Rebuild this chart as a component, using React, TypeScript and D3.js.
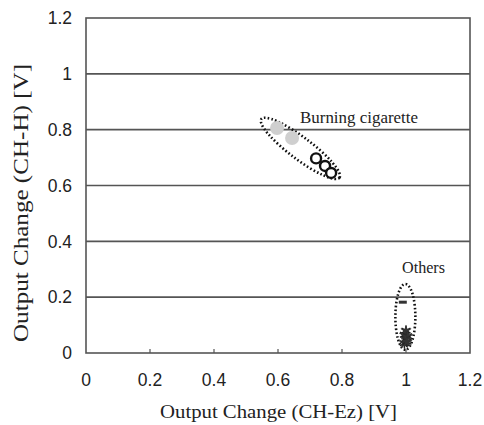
import React from "react";
import * as d3 from "d3";

const xTicks = [0, 0.2, 0.4, 0.6, 0.8, 1, 1.2];
const yTicks = [0, 0.2, 0.4, 0.6, 0.8, 1, 1.2];
const cigaretteOpen = [
  { x: 0.719, y: 0.697 },
  { x: 0.747, y: 0.67 },
  { x: 0.766, y: 0.645 },
];
const cigaretteGray = [
  { x: 0.597, y: 0.806 },
  { x: 0.644, y: 0.77 },
];
const othersDash = [{ x: 0.99, y: 0.182 }];
const othersStar = [
  { x: 1.0, y: 0.08 },
  { x: 0.995, y: 0.065 },
  { x: 1.005, y: 0.06 },
  { x: 1.0, y: 0.05 },
  { x: 0.995, y: 0.035 },
  { x: 1.003, y: 0.04 },
];
const groupEllipses = [
  { label: "Burning cigarette", x1: 0.548, y1: 0.838, x2: 0.792, y2: 0.628 },
  { label: "Others", x1: 0.998, y1: 0.247, x2: 0.998, y2: 0.012 },
];

export default function App() {
  const W = 484, H = 425;
  const x = d3.scaleLinear().domain([0, 1.2]).range([86, 470]);
  const y = d3.scaleLinear().domain([0, 1.2]).range([353, 18]);
  const star = d3.symbol().type(d3.symbolAsterisk).size(75)();
  const starFill = d3.symbol().type(d3.symbolStar).size(40)();
  const serif = "Liberation Serif, Times New Roman, serif";
  const sans = "Liberation Sans, Arial, sans-serif";

  const ell = (g: typeof groupEllipses[0], width: number) => {
    const px1 = x(g.x1), py1 = y(g.y1), px2 = x(g.x2), py2 = y(g.y2);
    const cx = (px1 + px2) / 2, cy = (py1 + py2) / 2;
    const len = Math.hypot(px2 - px1, py2 - py1) / 2;
    const ang = (Math.atan2(py2 - py1, px2 - px1) * 180) / Math.PI;
    return (
      <ellipse
        cx={0}
        cy={0}
        rx={len}
        ry={width}
        transform={`translate(${cx},${cy}) rotate(${ang})`}
        fill="none"
        stroke="#111"
        strokeWidth={2.6}
        strokeDasharray="1.6 2.2"
      />
    );
  };

  return (
    <svg width={W} height={H} style={{ position: "absolute", left: 0, top: 0, background: "#fff" }}>
      <rect x={0} y={0} width={W} height={H} fill="#fff" />
      {yTicks.slice(1, -1).map((t) => (
        <line key={t} x1={x(0)} x2={x(1.2)} y1={y(t)} y2={y(t)} stroke="#555" strokeWidth={1.6} />
      ))}
      <rect x={x(0)} y={y(1.2)} width={x(1.2) - x(0)} height={y(0) - y(1.2)} fill="none" stroke="#555" strokeWidth={1.6} />
      {xTicks.slice(1, -1).map((t) => (
        <line key={t} x1={x(t)} x2={x(t)} y1={y(0)} y2={y(0) - 4} stroke="#555" strokeWidth={1.2} />
      ))}
      {yTicks.map((t) => (
        <text key={t} x={72} y={y(t) + 6.3} textAnchor="end" fontFamily={sans} fontSize={17.5} fill="#222">
          {String(t)}
        </text>
      ))}
      {xTicks.map((t) => (
        <text key={t} x={x(t)} y={386} textAnchor="middle" fontFamily={sans} fontSize={17.5} fill="#222">
          {String(t)}
        </text>
      ))}
      <text x={278.5} y={418} textAnchor="middle" fontFamily={serif} fontSize={19.5} fill="#222"
        textLength={237} lengthAdjust="spacingAndGlyphs">
        Output Change (CH-Ez) [V]
      </text>
      <text
        transform={`translate(28,${203}) rotate(-90)`}
        textAnchor="middle"
        fontFamily={serif}
        fontSize={20.5}
        fill="#222"
        textLength={278}
        lengthAdjust="spacingAndGlyphs"
      >
        Output Change (CH-H) [V]
      </text>

      {ell(groupEllipses[0], 11)}
      {ell(groupEllipses[1], 10)}

      {cigaretteGray.map((d, i) => (
        <circle key={i} cx={x(d.x)} cy={y(d.y)} r={7} fill="#cfcfcf" />
      ))}
      {cigaretteOpen.map((d, i) => (
        <circle key={i} cx={x(d.x)} cy={y(d.y)} r={5} fill="#fff" stroke="#111" strokeWidth={2.4} />
      ))}
      {othersDash.map((d, i) => (
        <rect key={i} x={x(d.x) - 4} y={y(d.y) - 1.5} width={8} height={3} fill="#333" />
      ))}
      {othersStar.map((d, i) => (
        <g key={i} transform={`translate(${x(d.x)},${y(d.y)})`}>
          <path d={star} fill="none" stroke="#222" strokeWidth={1.5} />
          <path d={starFill} fill="#333" />
        </g>
      ))}

      <text x={300} y={123} fontFamily={serif} fontSize={17} fill="#222" textLength={118} lengthAdjust="spacingAndGlyphs">
        {groupEllipses[0].label}
      </text>
      <text x={402} y={273} fontFamily={serif} fontSize={16} fill="#222" textLength={43} lengthAdjust="spacingAndGlyphs">
        {groupEllipses[1].label}
      </text>
    </svg>
  );
}
